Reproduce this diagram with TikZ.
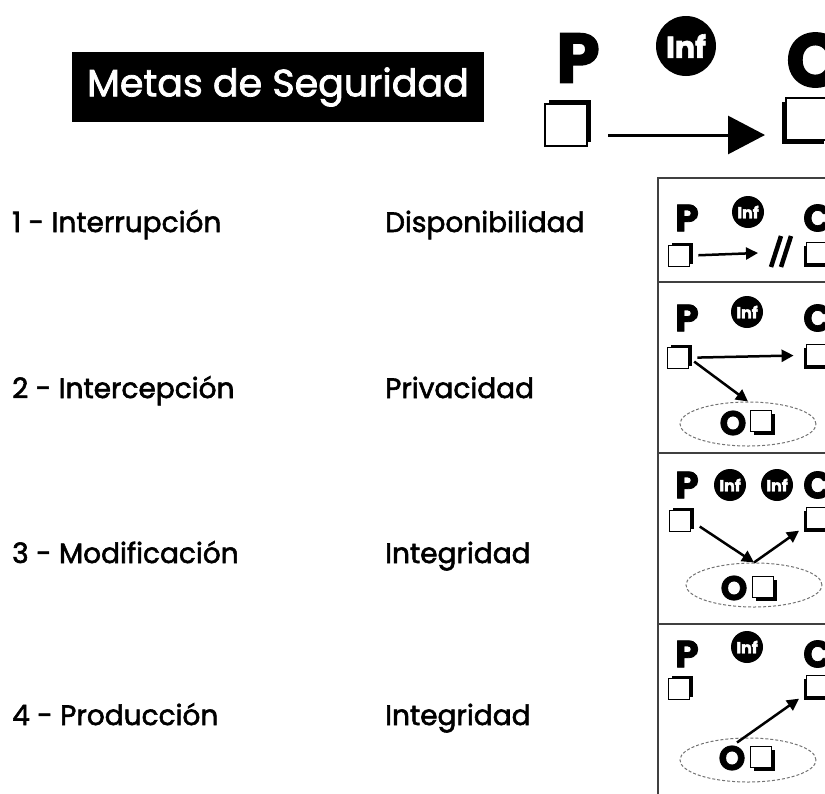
\documentclass[tikz,border=0pt]{standalone}
\usepackage{fontspec}
\setmainfont{Poppins}[FakeBold=2]
\usetikzlibrary{arrows.meta,shapes.geometric}
\tikzset{font=\fontsize{28}{32}\selectfont}
\tikzset{every node/.append style={inner sep=0pt}}
\tikzset{
  caja/.style={draw, line width=1.8pt, fill=white, minimum size=22pt},
  sombra/.style={fill=black, minimum size=22pt},
  inf/.style={circle, fill=black, text=white, minimum size=32pt, font=\bfseries\fontsize{16}{16}\selectfont},
  letra/.style={font=\bfseries\fontsize{38}{38}\selectfont},
  letraO/.style={font=\bfseries\fontsize{34}{34}\selectfont},
  nube/.style={ellipse, draw=black!55, dash pattern=on 3pt off 2pt, line width=1pt, minimum width=136pt, minimum height=44pt},
  flecha/.style={line width=2.5pt, -{Triangle[length=12pt,width=12pt]}},
  etiqueta/.style={anchor=base west},
}
% caja con sombra: nombre, x, y, desplazamiento x, desplazamiento y, lado
\newcommand\caja[6]{%
  \node[sombra, minimum size=#6] at ({#2+#4},{#3+#5}) {};
  \node[caja, minimum size=#6] (#1) at (#2,#3) {};
}

\begin{document}
\begin{tikzpicture}[x=1pt, y=-1pt]
  \useasboundingbox (0,0) rectangle (825,793);

  % titulo
  \node[fill=black, text=white, minimum width=412pt, minimum height=70pt,
        font=\fontsize{38}{40}\selectfont] (titulo) at (278,87) {Metas de Seguridad};

  % esquema general
  \node[font=\bfseries\fontsize{70}{70}\selectfont] (P) at (578,58) {P};
  \node[inf, minimum size=60pt, font=\bfseries\fontsize{30}{30}\selectfont] (inf) at (686,46) {Inf};
  \node[font=\bfseries\fontsize{76}{76}\selectfont, anchor=west] (C) at (786,60) {C};
  \caja{pbox}{566}{125}{4}{-4}{42pt}
  \caja{cbox}{807}{119}{-4}{4}{42pt}
  \coordinate (ini) at (608,135);
  \coordinate (fin) at (765,135);
  \draw[line width=3pt, -{Triangle[length=37pt,width=38pt]}] (ini) -- (fin);

  % etiquetas
  \node[etiqueta] (e1) at (12,232) {1 - Interrupción};
  \node[etiqueta] (m1) at (385,232) {Disponibilidad};
  \node[etiqueta] (e2) at (12,398) {2 - Intercepción};
  \node[etiqueta] (m2) at (385,398) {Privacidad};
  \node[etiqueta] (e3) at (12,563) {3 - Modificación};
  \node[etiqueta] (m3) at (385,563) {Integridad};
  \node[etiqueta] (e4) at (12,725) {4 - Producción};
  \node[etiqueta] (m4) at (385,725) {Integridad};

  % recuadros
  \draw[line width=1.5pt, black!75] (658,178) rectangle (845,800);
  \foreach \y in {282,453,624}{
    \draw[line width=1.5pt, black!75] (658,\y) -- (845,\y);
  };

  % letras P y C
  \foreach \n/\y in {1/218, 2/318, 3/485, 4/654}{
    \node[letra] (p\n) at (687,\y) {P};
    \node[letra, anchor=west] (c\n) at (803,\y) {C};
  };

  % 1 - interrupcion
  \node[inf] (inf1) at (748,212) {Inf};
  \caja{p1box}{679}{256}{3}{-3}{21pt}
  \caja{c1box}{817}{253}{-3}{3}{21pt}
  \coordinate (corte) at (758,253);
  \draw[flecha, shorten <=8pt] (p1box) -- (corte);
  \draw[line width=4.5pt] (771,267) -- (781,236);
  \draw[line width=4.5pt] (781,267) -- (791,236);

  % 2 - intercepcion
  \node[inf] (inf2) at (747,312) {Inf};
  \caja{p2box}{678}{358}{3}{-3}{21pt}
  \caja{c2box}{817}{355}{-3}{3}{21pt}
  \node[nube] (nube2) at (748,424) {};
  \node[letraO] (o2) at (733,423) {O};
  \caja{q2}{761}{421}{3}{3}{21pt}
  \draw[flecha, shorten <=8pt, shorten >=12pt] (p2box) -- (c2box);
  \draw[flecha, shorten <=6pt] (p2box.east) -- (nube2.north);

  % 3 - modificacion
  \node[inf] (inf3a) at (730,485) {Inf};
  \node[inf] (inf3b) at (777,485) {Inf};
  \caja{p3box}{680}{521}{3}{-3}{21pt}
  \caja{c3box}{817}{518}{-3}{3}{21pt}
  \node[nube] (nube3) at (754,585) {};
  \node[letraO] (o3) at (734,588) {O};
  \caja{q3}{763}{587}{3}{3}{21pt}
  \draw[flecha, shorten <=10pt] (p3box.east) -- (nube3.north);
  \draw[flecha, shorten >=8pt] (nube3.north) -- (c3box);

  % 4 - produccion
  \node[inf] (inf4) at (747,647) {Inf};
  \caja{p4box}{679}{689}{3}{-3}{21pt}
  \caja{c4box}{817}{686}{-3}{3}{21pt}
  \node[nube] (nube4) at (748,760) {};
  \node[letraO] (o4) at (732,758) {O};
  \caja{q4}{761}{757}{3}{3}{21pt}
  \draw[flecha, shorten >=8pt] ([xshift=-11pt,yshift=-5pt]nube4.north) -- (c4box);
\end{tikzpicture}
\end{document}
